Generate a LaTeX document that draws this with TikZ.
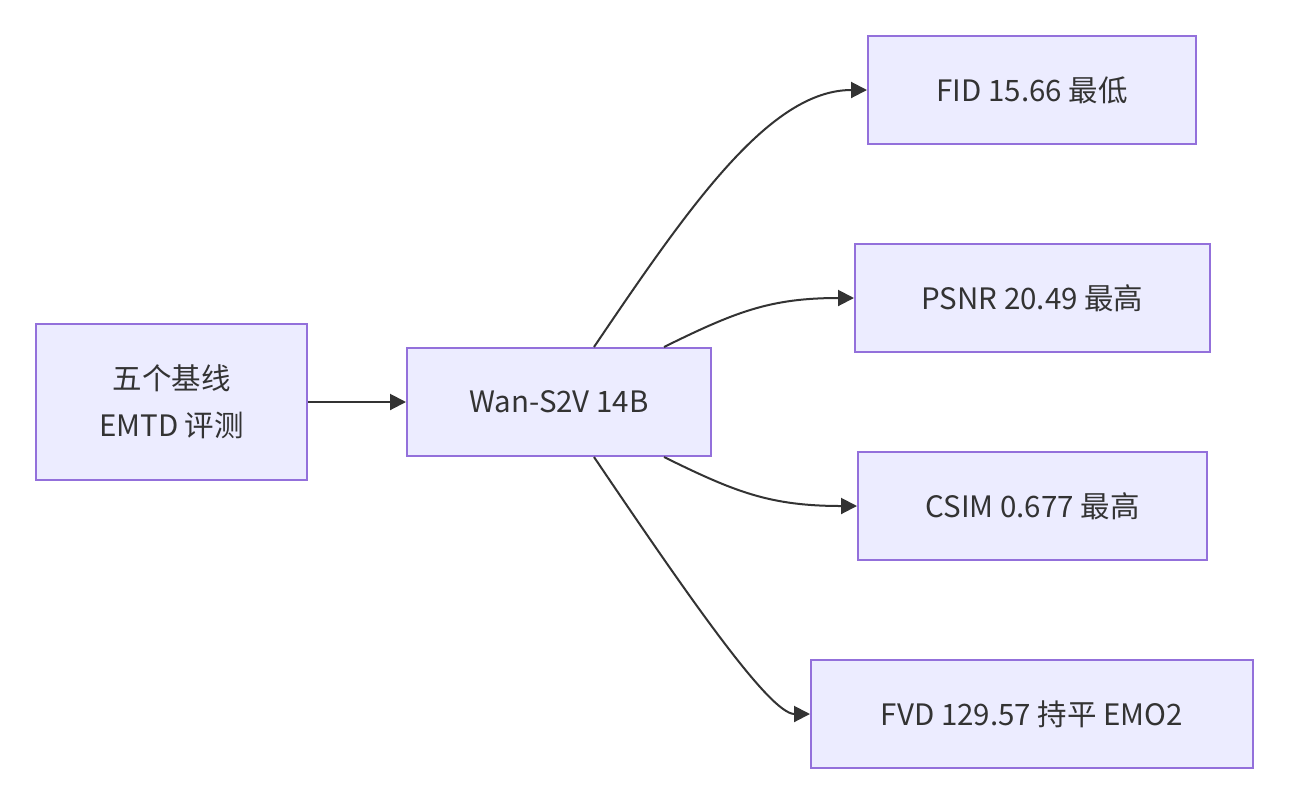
\documentclass[tikz,border=0pt]{standalone}
\usepackage{fontspec}
\setmainfont{Noto Sans CJK SC}
\usetikzlibrary{arrows.meta,calc}
\definecolor{boxfill}{HTML}{ECECFF}
\definecolor{boxline}{HTML}{9370DB}
\definecolor{edge}{HTML}{333333}
\begin{document}
\begin{tikzpicture}[x=1pt,y=-1pt,
  box/.style={draw=boxline,fill=boxfill,line width=2pt,inner sep=0pt,
    font=\fontsize{29.5}{47}\selectfont,text=edge,align=center},
  link/.style={draw=edge,line width=2pt,-{Triangle[length=16pt,width=16pt]}}]
\useasboundingbox (0,0) rectangle (1290,804);
\node[box,minimum width=271pt,minimum height=156pt] (A) at (171.5,402) {五个基线\\EMTD 评测};
\node[box,minimum width=304pt,minimum height=108pt] (B) at (559,402) {Wan-S2V 14B};
\node[box,minimum width=328pt,minimum height=108pt] (C1) at (1032,90) {FID 15.66 最低};
\node[box,minimum width=355pt,minimum height=108pt] (C2) at (1032.5,298) {PSNR 20.49 最高};
\node[box,minimum width=349pt,minimum height=108pt] (C3) at (1032.5,506) {CSIM 0.677 最高};
\node[box,minimum width=442pt,minimum height=108pt] (C4) at (1032,714) {FVD 129.57 持平 EMO2};
\draw[link] (A.east) -- (B.west);
\draw[link] ($(B.north west)+(188,0)$) .. controls (690,205) and (770,90) .. (C1.west);
\draw[link] ($(B.north west)+(258,0)$) .. controls (735,312) and (770,298) .. (C2.west);
\draw[link] ($(B.south west)+(258,0)$) .. controls (735,492) and (770,506) .. (C3.west);
\draw[link] ($(B.south west)+(188,0)$) .. controls (690,599) and (770,714) .. (C4.west);
\end{tikzpicture}
\end{document}
